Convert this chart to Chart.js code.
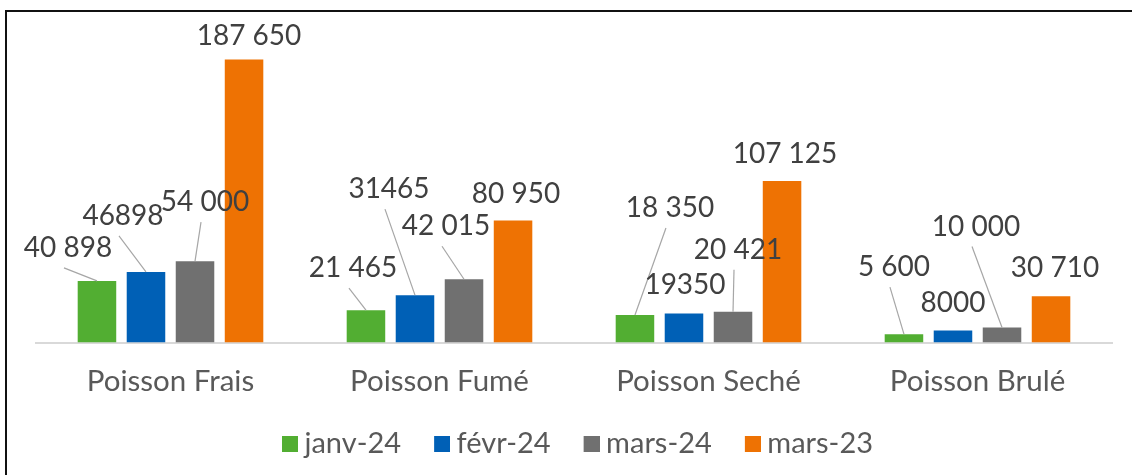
<!DOCTYPE html>
<html>
<head>
<meta charset="utf-8">
<script src="https://cdn.jsdelivr.net/npm/chart.js@4.4.1/dist/chart.umd.min.js"></script>
<style>
  html, body { margin: 0; padding: 0; background: #fff; }
  #frame {
    position: absolute; left: 5px; top: 10px; width: 1200px; height: 600px;
    border-left: 2px solid #111; border-top: 2px solid #111;
  }
  #wrap { position: absolute; left: 0; top: 0; width: 1132px; height: 475px; }
</style>
</head>
<body>
<div id="frame"></div>
<div id="wrap"><canvas id="chart" width="1132" height="475"></canvas></div>
<script>
const categories = ["Poisson Frais", "Poisson Fumé", "Poisson Seché", "Poisson Brulé"];
const seriesNames = ["janv-24", "févr-24", "mars-24", "mars-23"];

const janv24 = [40898, 21465, 18350, 5600];
const fevr24 = [46898, 31465, 19350, 8000];
const mars24 = [54000, 42015, 20421, 10000];
const mars23 = [187650, 80950, 107125, 30710];

// label texts as printed on the picture
const janv24Labels = ["40 898", "21 465", "18 350", "5 600"];
const fevr24Labels = ["46898", "31465", "19350", "8000"];
const mars24Labels = ["54 000", "42 015", "20 421", "10 000"];
const mars23Labels = ["187 650", "80 950", "107 125", "30 710"];

const colors = ["#52AE32", "#0060B6", "#707070", "#EE7203"];

// label placement: offset from bar top centre, and whether a leader line is drawn
const labelPlacement = [
    [[-29, -34, true], [-13, -43, true], [35, -108, true], [-10, -68, true]],
    [[-23, -57, true], [-26, -107, true], [1, -29, false], [0, -29, false]],
    [[10, -60, true], [-18, -54, true], [5, -63, true], [-26, -102, true]],
    [[5, -25, false], [3, -28, false], [3, -28, false], [4, -29, false]]
];

const allValues = [janv24, fevr24, mars24, mars23];
const allLabels = [janv24Labels, fevr24Labels, mars24Labels, mars23Labels];

// legend squares: 16px square at the right end of a wider transparent mark,
// so the square sits close to its text and items are spaced apart
const markLead = 33;
const legendMarks = colors.map(c => {
    const cv = document.createElement("canvas");
    cv.width = markLead + 16;
    cv.height = 16;
    const g = cv.getContext("2d");
    g.fillStyle = c;
    g.fillRect(markLead, 0, 16, 16);
    return cv;
});

const barLabels = {
    id: "barLabels",
    afterLayout(chart) {
        // recentre the legend row
        chart.legend.left -= 9;
        chart.legend.right -= 9;
    },
    afterDatasetsDraw(chart) {
        const ctx = chart.ctx;
        ctx.save();
        ctx.font = "28px Lato";
        ctx.fillStyle = "#404040";
        ctx.textAlign = "center";
        ctx.textBaseline = "alphabetic";
        ctx.strokeStyle = "#a6a6a6";
        ctx.lineWidth = 1.2;
        chart.data.datasets.forEach((ds, i) => {
            const meta = chart.getDatasetMeta(i);
            meta.data.forEach((bar, j) => {
                const [dx, dy, line] = labelPlacement[i][j];
                const lx = bar.x + dx;
                const ly = bar.y + dy;
                if (line) {
                    ctx.beginPath();
                    ctx.moveTo(lx - 4, ly + 21);
                    ctx.lineTo(bar.x, bar.y);
                    ctx.stroke();
                }
                ctx.fillText(allLabels[i][j], lx, ly + 10);
            });
        });
        ctx.restore();
    }
};

new Chart(document.getElementById("chart").getContext("2d"), {
    type: "bar",
    data: {
        labels: categories,
        datasets: seriesNames.map((name, i) => ({
            label: name,
            data: allValues[i],
            backgroundColor: colors[i],
            categoryPercentage: 0.729,
            barPercentage: 0.786
        }))
    },
    options: {
        responsive: false,
        animation: false,
        layout: {
            padding: { left: 36, right: 20, top: 41, bottom: 7 }
        },
        scales: {
            x: {
                grid: { display: false, drawTicks: false },
                border: { color: "#d9d9d9", width: 2 },
                ticks: {
                    color: "#595959",
                    font: { family: "Lato", size: 29.5 },
                    padding: 21.5
                }
            },
            y: {
                display: false,
                min: 0,
                max: 200000
            }
        },
        plugins: {
            legend: {
                position: "bottom",
                labels: {
                    color: "#595959",
                    font: { family: "Lato", size: 29 },
                    usePointStyle: true,
                    pointStyleWidth: markLead,
                    boxHeight: 16,
                    padding: 8,
                    generateLabels(chart) {
                        const items = Chart.defaults.plugins.legend.labels.generateLabels(chart);
                        items.forEach((item, i) => { item.pointStyle = legendMarks[i]; });
                        return items;
                    }
                }
            },
            tooltip: { enabled: false }
        }
    },
    plugins: [barLabels]
});
</script>
</body>
</html>
